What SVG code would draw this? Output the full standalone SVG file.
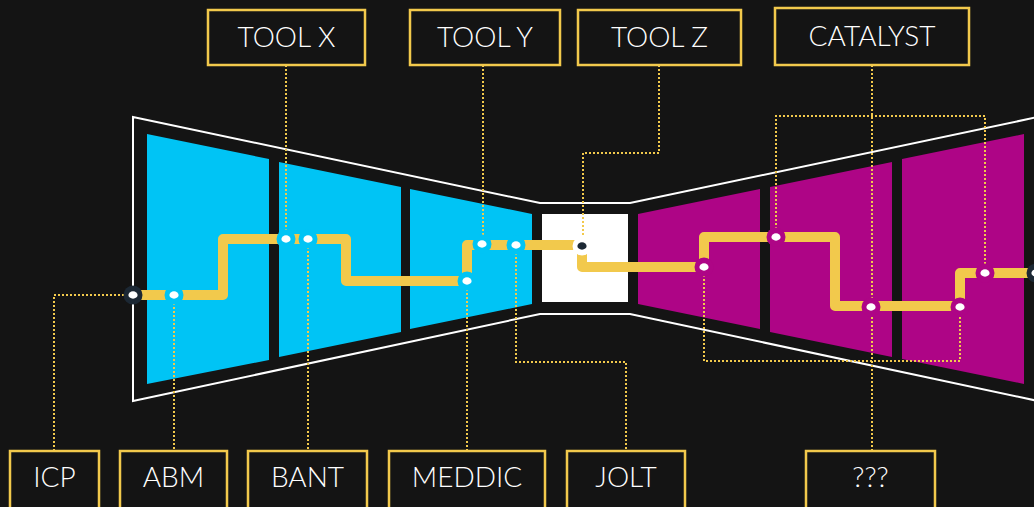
<svg xmlns="http://www.w3.org/2000/svg" width="1034" height="507" viewBox="0 0 1034 507">
  <style>
    .bg{fill:#141414}
    .outline{fill:none;stroke:#ffffff;stroke-width:2}
    .blue{fill:#00C4F5}
    .mag{fill:#AE0586}
    .dot{fill:none;stroke:#F2C94C;stroke-width:2;stroke-dasharray:2 2}
    .track{fill:none;stroke:#F2C94C;stroke-width:10;stroke-linejoin:round}
    .box{fill:#141414;stroke:#F2C94C;stroke-width:2.5}
    .lbl{fill:#ffffff;font-family:Lato,"Open Sans",sans-serif;font-weight:300;font-size:28px;text-anchor:middle}
    .in{fill:#ffffff}
  </style>
  <rect class="bg" x="0" y="0" width="1034" height="507"/>

  <g id="funnel">
    <polygon class="outline" points="133,117 540,203 630,203 1038,117 1038,401 630,314 540,314 133,401"/>
    <polygon class="blue" points="147,134 269,159 269,360 147,384"/>
    <polygon class="blue" points="279,162 401,187 401,332 279,357"/>
    <polygon class="blue" points="410,189 532,214 532,304 410,329"/>
    <rect x="542" y="214" width="86" height="88" fill="#ffffff"/>
    <polygon class="mag" points="638,214 760,189 760,329 638,304"/>
    <polygon class="mag" points="770,187 892,162 892,357 770,332"/>
    <polygon class="mag" points="902,159 1024,134 1024,384 902,359"/>
  </g>

  <g id="connectors">
    <polyline class="dot" points="54,451 54,295 133,295"/>
    <line class="dot" x1="174" y1="295" x2="174" y2="451"/>
    <line class="dot" x1="308" y1="239" x2="308" y2="451"/>
    <line class="dot" x1="286" y1="65" x2="286" y2="239"/>
    <line class="dot" x1="483" y1="65" x2="483" y2="244"/>
    <line class="dot" x1="467" y1="281" x2="467" y2="451"/>
    <polyline class="dot" points="516,245 516,362 626,362 626,451"/>
    <polyline class="dot" points="659,65 659,153 583,153 583,246"/>
    <line class="dot" x1="872" y1="65" x2="872" y2="451"/>
    <polyline class="dot" points="776,237 776,116 985,116 985,273"/>
    <polyline class="dot" points="704,267 704,361 960,361 960,307"/>
    <polyline class="track" points="133,295 223,295 223,239 346,239 346,281 467,281 467,245 582,245 582,267 704,267 704,237 835,237 835,306 960,306 960,273 1040,273"/>
  </g>

  <g id="nodes">
    <circle cx="133" cy="295" r="9.5" fill="#1C2834"/>
    <ellipse class="in" cx="133" cy="295" rx="4.6" ry="3.7"/>
    <circle cx="174" cy="295" r="9.5" fill="#00C4F5"/>
    <ellipse class="in" cx="174" cy="295" rx="4.6" ry="3.7"/>
    <circle cx="286" cy="239" r="9.5" fill="#00C4F5"/>
    <ellipse class="in" cx="286" cy="239" rx="4.6" ry="3.7"/>
    <circle cx="308" cy="239" r="9.5" fill="#00C4F5"/>
    <ellipse class="in" cx="308" cy="239" rx="4.6" ry="3.7"/>
    <circle cx="467" cy="281" r="9.5" fill="#00C4F5"/>
    <ellipse class="in" cx="467" cy="281" rx="4.6" ry="3.7"/>
    <circle cx="482" cy="244" r="9.5" fill="#00C4F5"/>
    <ellipse class="in" cx="482" cy="244" rx="4.6" ry="3.7"/>
    <circle cx="516" cy="245" r="9.5" fill="#00C4F5"/>
    <ellipse class="in" cx="516" cy="245" rx="4.6" ry="3.7"/>
    <circle cx="582" cy="246" r="9.5" fill="#ffffff"/>
    <ellipse cx="582" cy="246" rx="4.6" ry="3.7" fill="#1C2834"/>
    <circle cx="704" cy="267" r="9.5" fill="#AE0586"/>
    <ellipse class="in" cx="704" cy="267" rx="4.6" ry="3.7"/>
    <circle cx="776" cy="237" r="9.5" fill="#AE0586"/>
    <ellipse class="in" cx="776" cy="237" rx="4.6" ry="3.7"/>
    <circle cx="871" cy="307" r="9.5" fill="#AE0586"/>
    <ellipse class="in" cx="871" cy="307" rx="4.6" ry="3.7"/>
    <circle cx="960" cy="307" r="9.5" fill="#AE0586"/>
    <ellipse class="in" cx="960" cy="307" rx="4.6" ry="3.7"/>
    <circle cx="985" cy="273" r="9.5" fill="#AE0586"/>
    <ellipse class="in" cx="985" cy="273" rx="4.6" ry="3.7"/>
    <circle cx="1036" cy="273" r="9.5" fill="#1C2834"/>
    <ellipse class="in" cx="1036" cy="273" rx="4.6" ry="3.7"/>
  </g>

  <g id="tool-x"><rect class="box" x="208" y="10" width="157" height="55"/><text class="lbl" x="286.5" y="47">TOOL X</text></g>
  <g id="tool-y"><rect class="box" x="410" y="10" width="150" height="55"/><text class="lbl" x="485" y="47">TOOL Y</text></g>
  <g id="tool-z"><rect class="box" x="578" y="10" width="163" height="55"/><text class="lbl" x="659.5" y="47">TOOL Z</text></g>
  <g id="catalyst"><rect class="box" x="775" y="8" width="194" height="57"/><text class="lbl" x="872" y="46">CATALYST</text></g>

  <g id="icp"><rect class="box" x="10" y="451" width="89" height="60"/><text class="lbl" x="54.5" y="487">ICP</text></g>
  <g id="abm"><rect class="box" x="120" y="451" width="107" height="60"/><text class="lbl" x="173.5" y="487">ABM</text></g>
  <g id="bant"><rect class="box" x="248" y="451" width="119" height="60"/><text class="lbl" x="307.5" y="487">BANT</text></g>
  <g id="meddic"><rect class="box" x="389" y="451" width="156" height="60"/><text class="lbl" x="467" y="487">MEDDIC</text></g>
  <g id="jolt"><rect class="box" x="567" y="451" width="118" height="60"/><text class="lbl" x="626" y="487">JOLT</text></g>
  <g id="unknown"><rect class="box" x="806" y="451" width="129" height="60"/><text class="lbl" x="870.5" y="487">???</text></g>
</svg>
